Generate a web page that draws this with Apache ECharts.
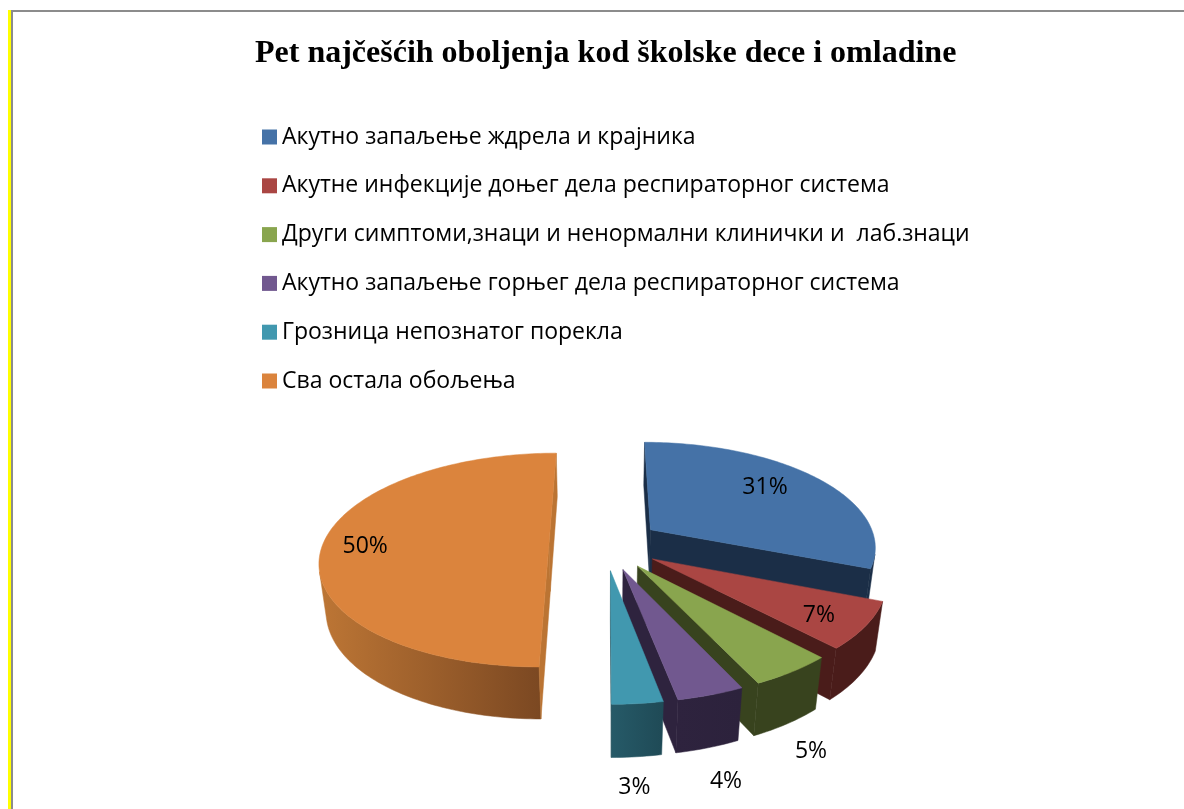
<!DOCTYPE html>
<html>
<head>
<meta charset="utf-8">
<style>
  html, body { margin: 0; padding: 0; background: #fff; }
  #chart { width: 1184px; height: 809px; }
</style>
</head>
<body>
<div id="chart"></div>
<script src="https://cdn.jsdelivr.net/npm/echarts@6/dist/echarts.min.js"></script>
<script>
const titleText = 'Pet najčešćih oboljenja kod školske dece i omladine';
const categories = [
  'Акутно запаљење ждрела и крајника',
  'Акутне инфекције доњег дела респираторног система',
  'Други симптоми,знаци и ненормални клинички и  лаб.знаци',
  'Акутно запаљење горњег дела респираторног система',
  'Грозница непознатог порекла',
  'Сва остала обољења'
];
const values = [31, 7, 5, 4, 3, 50];

const topColors = ['#4572a7', '#aa4643', '#89a54e', '#71588f', '#4198af', '#db843d'];
const faceColors = ['#1b2e47', '#4a1c1a', '#38431e', '#2e233e', '#23505d', '#bb7433'];
const wallLeft = ['#1b2e47', '#4a1c1a', '#38431e', '#2e233e', '#265a68', '#bd7635'];
const wallRight = ['#1b2e47', '#4a1c1a', '#38431e', '#2c223c', '#1f4a56', '#7b4822'];
// label nudge from the point on the slice's middle line (px)
const labelNudge = [[-20, 0], [-1, 4], [53, 103], [35, 115], [3, 114], [-3, 2]];

// tilted pie projection
const cx = 605, cy = 544;
const scaleX = 226, scaleY = 104.5, depth = 48.6;
const tilt = 0.15, shrink = 0.025;
const explode = 0.248;
const labelR = 0.8;

const total = values.reduce((a, b) => a + b, 0);

function project (X, Y, h) {
  const w = 1 - tilt * Y + shrink * h;
  return [cx + scaleX * X / w, cy + (scaleY * Y + depth * h) / w];
}

function area (pts) {
  let s = 0;
  for (let i = 0; i < pts.length; i++) {
    const a = pts[i], b = pts[(i + 1) % pts.length];
    s += a[0] * b[1] - b[0] * a[1];
  }
  return s;
}

function polygon (points, fill, z2) {
  return { type: 'polygon', z2: z2, shape: { points: points }, style: { fill: fill, stroke: fill, lineWidth: 0.5 } };
}

function renderSlice (index, startValue, value) {
  const a0 = startValue / total * Math.PI * 2;
  const a1 = (startValue + value) / total * Math.PI * 2;
  const mid = (a0 + a1) / 2;
  const ox = Math.sin(mid) * explode, oy = -Math.cos(mid) * explode;
  // angle runs clockwise from 12 o'clock, Y grows towards the viewer
  const rim = (a, h) => project(ox + Math.sin(a), oy - Math.cos(a), h);
  const apex = h => project(ox, oy, h);

  const steps = Math.max(6, Math.ceil((a1 - a0) / 0.02));
  const angles = [];
  for (let i = 0; i <= steps; i++) angles.push(a0 + (a1 - a0) * i / steps);

  const children = [];

  // outer wall, only the runs facing the viewer
  let run = [];
  const flush = () => {
    if (run.length > 1) {
      const pts = run.map(a => rim(a, 0)).concat(run.slice().reverse().map(a => rim(a, 1)));
      children.push(polygon(pts, new echarts.graphic.LinearGradient(0, 0, 1, 0, [
        { offset: 0, color: wallLeft[index] },
        { offset: 1, color: wallRight[index] }
      ]), 1));
    }
    run = [];
  };
  for (let i = 0; i < steps; i++) {
    const quad = [rim(angles[i], 0), rim(angles[i + 1], 0), rim(angles[i + 1], 1), rim(angles[i], 1)];
    if (area(quad) < 0) {
      if (!run.length) run.push(angles[i]);
      run.push(angles[i + 1]);
    } else {
      flush();
    }
  }
  flush();

  // the two cut faces
  const startFace = [apex(0), rim(a0, 0), rim(a0, 1), apex(1)];
  if (area(startFace) < 0) children.push(polygon(startFace, faceColors[index], 2));
  const endFace = [apex(0), rim(a1, 0), rim(a1, 1), apex(1)];
  if (area(endFace) > 0) children.push(polygon(endFace, faceColors[index], 2));

  // top surface
  children.push(polygon([apex(0)].concat(angles.map(a => rim(a, 0))), topColors[index], 3));

  // value label
  const lp = project(ox + Math.sin(mid) * labelR, oy - Math.cos(mid) * labelR, 0);
  children.push({
    type: 'text',
    z2: 10,
    style: {
      text: value + '%',
      x: lp[0] + labelNudge[index][0],
      y: lp[1] + labelNudge[index][1],
      fill: '#000',
      font: '23px "Open Sans"',
      align: 'center',
      verticalAlign: 'middle'
    }
  });
  return { type: 'group', children: children };
}

let running = 0;
const series = categories.map((name, i) => {
  const start = running;
  running += values[i];
  return {
    name: name,
    type: 'custom',
    coordinateSystem: 'none',
    silent: true,
    itemStyle: { color: topColors[i] },
    data: [[values[i]]],
    z: 2 + i,
    renderItem: (params, api) => renderSlice(i, start, api.value(0))
  };
});

const chart = echarts.init(document.getElementById('chart'), null, { renderer: 'canvas' });
chart.setOption({
  animation: false,
  backgroundColor: '#fff',
  title: {
    text: titleText,
    left: 255,
    top: 38,
    padding: 0,
    textStyle: { fontFamily: '"Liberation Serif"', fontWeight: 'bold', fontSize: 32, color: '#000' }
  },
  legend: {
    orient: 'vertical',
    left: 262,
    top: 125.5,
    padding: 0,
    itemWidth: 15,
    itemHeight: 15,
    itemGap: 25.8,
    icon: 'rect',
    selectedMode: false,
    data: categories,
    textStyle: { fontFamily: '"Open Sans"', fontSize: 23, color: '#000' }
  },
  graphic: [
    { type: 'rect', shape: { x: 8, y: 10, width: 3, height: 799 }, style: { fill: '#ffff00' } },
    { type: 'rect', shape: { x: 11, y: 10, width: 2, height: 799 }, style: { fill: '#8c8c8c' } },
    { type: 'rect', shape: { x: 11, y: 10, width: 1173, height: 2 }, style: { fill: '#8c8c8c' } }
  ],
  series: series
});
</script>
</body>
</html>
